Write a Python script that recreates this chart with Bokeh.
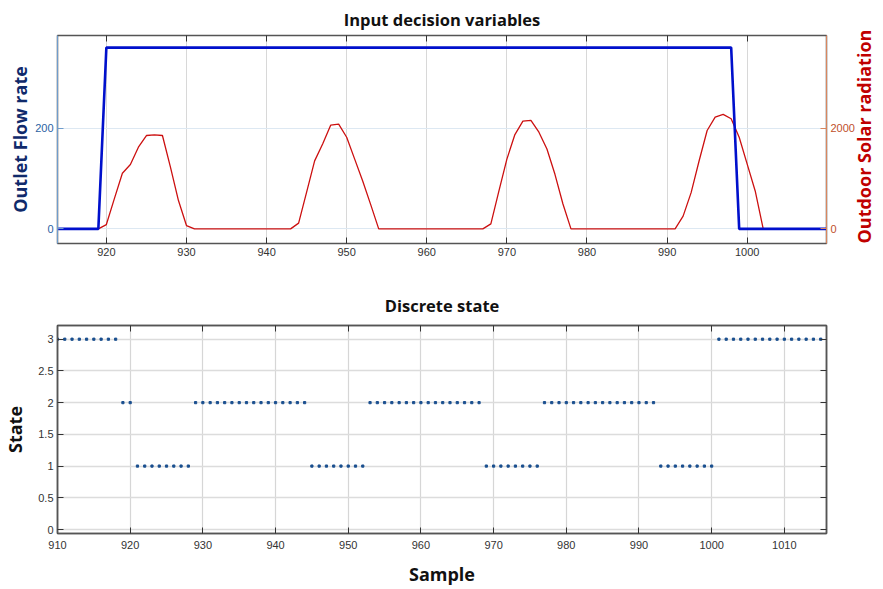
import math
from bokeh.plotting import figure
from bokeh.models import LinearAxis, Range1d, FixedTicker
from bokeh.layouts import column
from bokeh.embed import file_html
from bokeh.resources import INLINE

# ---- data: top chart ----
flow_x = [914, 919, 920, 998, 999, 1010]
flow_y = [0, 0, 360, 360, 0, 0]

rad_x = [914, 919, 920, 921, 922, 923, 924, 925, 926, 927, 928, 929, 930, 931,
         943, 944, 945, 946, 947, 948, 949, 950, 951, 952, 953, 954,
         967, 968, 969, 970, 971, 972, 973, 974, 975, 976, 977, 978,
         991, 992, 993, 994, 995, 996, 997, 998, 999, 1000, 1001, 1002, 1010]
rad_y = [0, 0, 86, 600, 1106, 1278, 1623, 1854, 1868, 1854, 1225, 563, 66, 0,
         0, 114, 730, 1351, 1686, 2060, 2080, 1819, 1385, 950, 482, 0,
         0, 100, 750, 1385, 1873, 2140, 2154, 1920, 1585, 1084, 495, 0,
         0, 253, 720, 1353, 1953, 2220, 2273, 2187, 1820, 1287, 753, 0, 0]

top_xticks = [920, 930, 940, 950, 960, 970, 980, 990, 1000]
flow_ticks = [0, 200]
rad_ticks = [0, 2000]

# ---- data: bottom chart ----
sample = list(range(910, 1016))
state = ([3] * 9 + [2] * 2 + [1] * 8 + [2] * 16 + [1] * 8 + [2] * 16 +
         [1] * 8 + [2] * 16 + [1] * 8 + [3] * 15)
bot_xticks = [910, 920, 930, 940, 950, 960, 970, 980, 990, 1000, 1010]
state_ticks = [0, 0.5, 1, 1.5, 2, 2.5, 3]

TICK_FONT = "Liberation Sans"
TITLE_FONT = "Open Sans"
FW = 769
FH = 208


def style_common(p, title_standoff=None):
    p.outline_line_color = "#555555"
    p.outline_line_width = 1.5
    p.background_fill_color = "white"
    p.border_fill_color = "white"
    p.title.text_font = TITLE_FONT
    p.title.text_font_style = "bold"
    p.title.text_font_size = "16.5px"
    p.title.text_color = "#111111"
    p.title.align = "center"
    if title_standoff is not None:
        p.title.standoff = title_standoff


def style_axis(ax, line_color="#555555", tick_color="#333333",
               label_color="#333333", width=1.0, standoff=4):
    ax.major_tick_in = 6
    ax.major_tick_out = 0
    ax.minor_tick_line_color = None
    ax.axis_line_color = line_color
    ax.axis_line_width = width
    ax.major_tick_line_color = tick_color
    ax.major_label_text_font = TICK_FONT
    ax.major_label_text_font_size = "11px"
    ax.major_label_text_color = label_color
    ax.major_label_standoff = standoff


def hide_labels(ax):
    ax.major_label_text_color = None
    ax.major_label_text_font_size = "1px"
    ax.major_label_standoff = 0


def bold_label(ax, text, color, standoff):
    ax.axis_label = text
    ax.axis_label_text_font = TITLE_FONT
    ax.axis_label_text_font_style = "bold"
    ax.axis_label_text_font_size = "18px"
    ax.axis_label_text_color = color
    ax.axis_label_standoff = standoff


# ================= top figure =================
p1 = figure(frame_width=FW, frame_height=FH, x_range=(913.9, 1009.9),
            y_range=(-29, 384), output_backend="svg", toolbar_location=None,
            title="Input decision variables",
            min_border_left=47, min_border_right=40, min_border_top=27,
            min_border_bottom=40)
style_common(p1, title_standoff=10)
p1.extra_y_ranges = {"rad": Range1d(-290, 3840)}

p1.xgrid.grid_line_color = "#d8d8d8"
p1.ygrid.grid_line_color = "#dde8f2"
p1.xgrid.ticker = FixedTicker(ticks=top_xticks)
p1.ygrid.ticker = FixedTicker(ticks=flow_ticks)

xa = p1.xaxis[0]
xa.ticker = FixedTicker(ticks=top_xticks)
style_axis(xa)

ya = p1.yaxis[0]
ya.ticker = FixedTicker(ticks=flow_ticks)
style_axis(ya, line_color="#6f9ccc", tick_color="#6f9ccc", label_color="#2b62a3")
bold_label(ya, "Outlet Flow rate", "#102a6b", 0)

ra = LinearAxis(y_range_name="rad", ticker=FixedTicker(ticks=rad_ticks))
style_axis(ra, line_color="#d9865e", tick_color="#d9865e", label_color="#c0502a")
bold_label(ra, "Outdoor Solar radiation", "#c00000", 6)
props = LinearAxis.properties()
if "axis_label_orientation" in props:
    ra.axis_label_orientation = math.pi / 2
if "axis_label_align" in props:
    ra.axis_label_align = "start"
p1.add_layout(ra, "right")

ta = LinearAxis(ticker=FixedTicker(ticks=top_xticks))
style_axis(ta)
hide_labels(ta)
p1.add_layout(ta, "above")

p1.line(rad_x, rad_y, y_range_name="rad", line_color="#cc1010", line_width=1.3)
p1.line(flow_x, flow_y, line_color="#0010cc", line_width=2.6)

# ================= bottom figure =================
p2 = figure(frame_width=FW, frame_height=FH, x_range=(910, 1015.8),
            y_range=(-0.063, 3.216), output_backend="svg", toolbar_location=None,
            title="Discrete state",
            min_border_left=47, min_border_right=51, min_border_top=39,
            min_border_bottom=55)
style_common(p2, title_standoff=17)
p2.xgrid.grid_line_color = "#d6d6d6"
p2.ygrid.grid_line_color = "#dcdcdc"
p2.xgrid.grid_line_width = 1.2
p2.ygrid.grid_line_width = 1.5
p2.xgrid.ticker = FixedTicker(ticks=bot_xticks)
p2.ygrid.ticker = FixedTicker(ticks=state_ticks)

bx = p2.xaxis[0]
bx.ticker = FixedTicker(ticks=bot_xticks)
style_axis(bx, width=1.5, standoff=7)
bold_label(bx, "Sample", "#111111", 10)

by = p2.yaxis[0]
by.ticker = FixedTicker(ticks=state_ticks)
style_axis(by, width=1.5)
bold_label(by, "State", "#111111", 8)

bt = LinearAxis(ticker=FixedTicker(ticks=bot_xticks))
style_axis(bt, width=1.5)
hide_labels(bt)
p2.add_layout(bt, "above")

br = LinearAxis(ticker=FixedTicker(ticks=state_ticks))
style_axis(br, width=1.5)
hide_labels(br)
p2.add_layout(br, "right")

p2.scatter(sample, state, marker="square", size=2.2, color="#1a4f8f")

layout = column(p1, p2, spacing=0)
open("out.html", "w").write(file_html(layout, INLINE))
